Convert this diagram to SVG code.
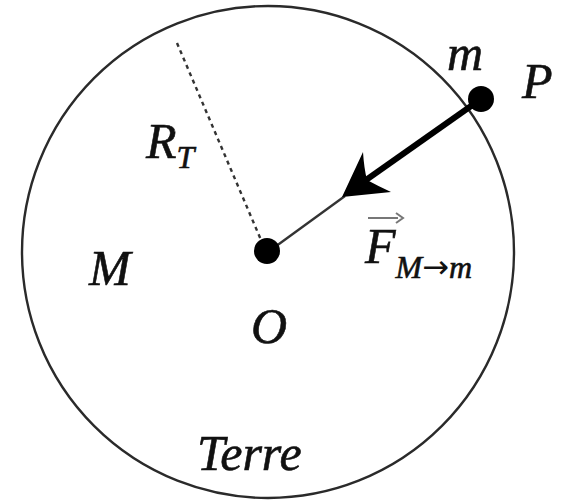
<svg xmlns="http://www.w3.org/2000/svg" width="567" height="501" viewBox="0 0 567 501">
<style>
.lbl{font-family:"Liberation Serif","Times New Roman",serif;font-style:italic;fill:#111;stroke:#111;stroke-width:0.6;}
.big{font-size:50px;}
.sub{font-size:32px;}
.earth{fill:none;stroke:#2a2a2a;stroke-width:2.4;}
</style>
<rect width="567" height="501" fill="#fff"/>
<g id="earth">
<circle class="earth" cx="268" cy="252" r="246"/>
<text class="lbl big" x="197" y="470">Terre</text>
<text class="lbl big" x="89" y="285">M</text>
</g>
<g id="connectors">
<line x1="177" y1="43" x2="261" y2="240" stroke="#333" stroke-width="2.4" stroke-dasharray="4 4"/>
<line x1="268" y1="252" x2="345" y2="196" stroke="#333" stroke-width="2.4"/>
<line x1="481" y1="99" x2="366" y2="180" stroke="#000" stroke-width="6"/>
<path d="M342,197 L363,152 Q364,168 367,180 Q378,186 391,192 Z" fill="#000"/>
</g>
<g id="O">
<circle cx="267" cy="251" r="13" fill="#000"/>
<text class="lbl big" x="251" y="343">O</text>
</g>
<g id="P">
<circle cx="481" cy="99" r="13" fill="#000"/>
<text class="lbl big" x="447" y="70">m</text>
<text class="lbl big" x="522" y="98">P</text>
</g>
<g id="radius">
<text class="lbl big" x="146" y="158">R<tspan class="sub" font-size="34" dy="10">T</tspan></text>
</g>
<g id="force">
<text class="lbl big" x="365" y="263">F<tspan class="sub" dy="15">M</tspan><tspan class="sub" font-style="normal" font-family="DejaVu Sans, sans-serif" font-size="22" stroke-width="0">→</tspan><tspan class="sub">m</tspan></text>
<line x1="368" y1="218" x2="398" y2="218" stroke="#777" stroke-width="2"/>
<path d="M396,213 L403,218 L396,223" fill="none" stroke="#777" stroke-width="2"/>
</g>
</svg>
